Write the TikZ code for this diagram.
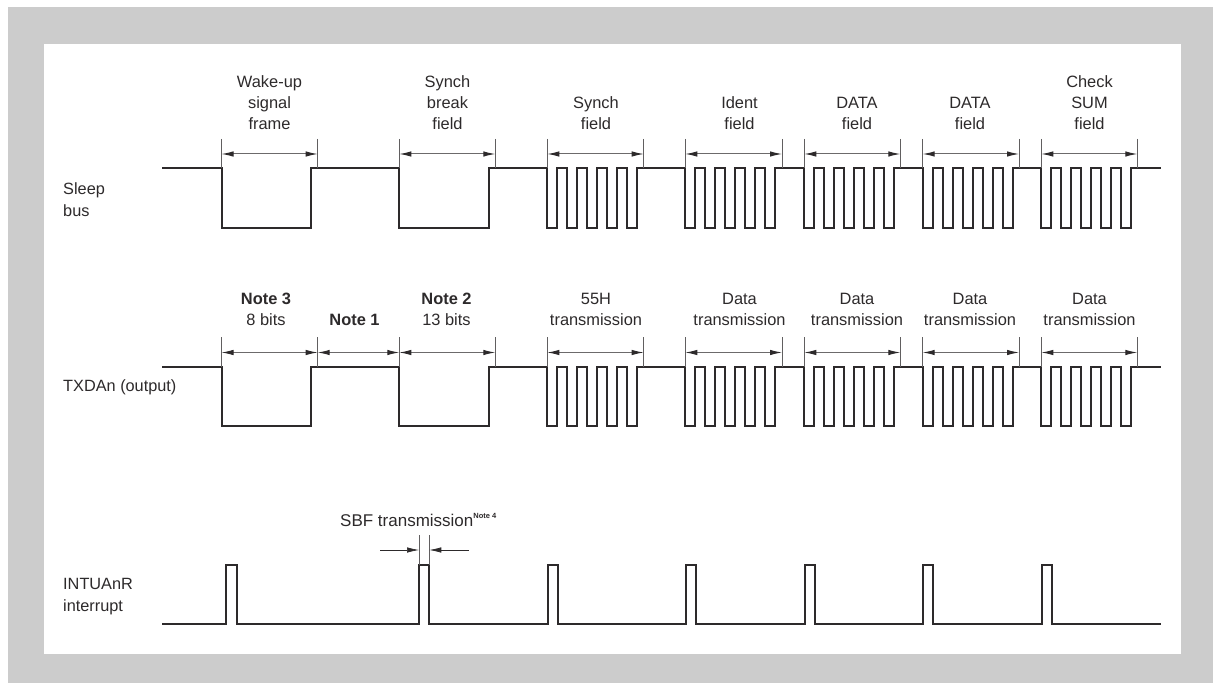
\documentclass[tikz,border=0pt]{standalone}
\usepackage{fontspec}
\setmainfont{Liberation Sans}
\usetikzlibrary{arrows.meta}
\definecolor{framegray}{RGB}{204,204,204}
\definecolor{inkdark}{RGB}{45,42,43}
\begin{document}
\begin{tikzpicture}[
    x=1pt, y=-1pt,
    wave/.style={draw=inkdark, line width=2pt, line join=miter},
    guide/.style={draw=inkdark!75, line width=0.9pt},
    span/.style={draw=inkdark!70, line width=1pt, {Latex[length=12pt,width=5.5pt,inkdark]}-{Latex[length=12pt,width=5.5pt,inkdark]}},
    pointer/.style={draw=inkdark, line width=0.7pt, -{Latex[length=12pt,width=5.5pt]}},
    caption/.style={inner sep=0pt, align=center, text=inkdark, font=\fontsize{16.4}{21}\selectfont},
    signame/.style={inner sep=0pt, anchor=west, align=left, text=inkdark, font=\fontsize{16.3}{22.5}\selectfont}
]

\useasboundingbox (0,0) rectangle (1213,684);

% Frame
\fill[framegray] (8,7) rectangle (1213,683);
\fill[white] (44,44.5) rectangle (1181,654);

% Top labels
\node (wake) [caption] at (269.5,103) {Wake-up\\signal\\frame};
\node (sbreak) [caption] at (447.5,103) {Synch\\break\\field};
\node (synch) [caption] at (596,113.5) {Synch\\field};
\node (ident) [caption] at (739.5,113.5) {Ident\\field};
\node (data1) [caption] at (857,113.5) {DATA\\field};
\node (data2) [caption] at (970,113.5) {DATA\\field};
\node (check) [caption] at (1089.5,103) {Check\\SUM\\field};

% Labels over TXDAn
\node (note3) [caption] at (266,309) {\textbf{Note 3}\\8 bits};
\node (note1) [caption] at (354.5,320) {\textbf{Note 1}};
\node (note2) [caption] at (446.5,309) {\textbf{Note 2}\\13 bits};
\node (hex55) [caption] at (596,309) {55H\\transmission};
\foreach \name/\xpos in {tx1/739.5, tx2/857, tx3/970, tx4/1089.5}
    \node (\name) [caption] at (\xpos,309) {Data\\transmission};

% Signal names
\node (sleep) [signame] at (63,199.5) {Sleep\\bus};
\node (txd) [signame] at (63,387.5) {TXDAn (output)};
\node (intu) [signame] at (63,596.5) {INTUAnR\\interrupt};
\node (sbf) [caption, anchor=west, font=\fontsize{17}{21}\selectfont] at (340,520) {SBF transmission\raisebox{8.5pt}{\fontsize{7.5}{8}\selectfont\textbf{Note 4}}};

% Sleep bus and TXDAn
\foreach \hi/\lo in {168.5/227.7, 367/426}
    \draw[wave] (162,\hi) -| (221.5,\lo) -| (310.7,\hi) -| (399.3,\lo) -| (488.7,\hi)
        foreach \s in {547.3,685.3,804.3,922.7,1041.3} {
            -| (\s,\lo) -| (\s+10,\hi) -| (\s+20,\lo) -| (\s+30,\hi) -| (\s+40,\lo)
            -| (\s+50,\hi) -| (\s+60,\lo) -| (\s+70,\hi) -| (\s+80,\lo) -| (\s+90,\hi)
        } -- (1160.7,\hi);

% Field spans
\foreach \hi in {168.5, 367}
    \foreach \xa/\xb in {221.5/317.7, 399.3/495.3, 547.3/643.7, 685.3/782, 804.3/900.3, 922.7/1019, 1041.3/1137.3} {
        \draw[guide] (\xa,\hi-29.5) -- (\xa,\hi);
        \draw[guide] (\xb,\hi-29.5) -- (\xb,\hi);
        \draw[span] (\xa,\hi-14.5) -- (\xb,\hi-14.5);
    }
\draw[span] (317.7,352.5) -- (399.3,352.5);

% INTUAnR
\draw[wave] (162,624.3)
    foreach \s in {226.3,419,547.5,685.5,804.5,923,1041.5} {
        -| (\s,565) -| (\s+10.3,624.3)
    } -- (1160.7,624.3);

% SBF width
\coordinate (sbfl) at (419,535);
\coordinate (sbfr) at (429.3,535);
\draw[guide] (sbfl) -- ++(0,30);
\draw[guide] (sbfr) -- ++(0,30);
\draw[pointer] (380,550) -- (419,550);
\draw[pointer] (468.7,550) -- (429.3,550);

\end{tikzpicture}
\end{document}
